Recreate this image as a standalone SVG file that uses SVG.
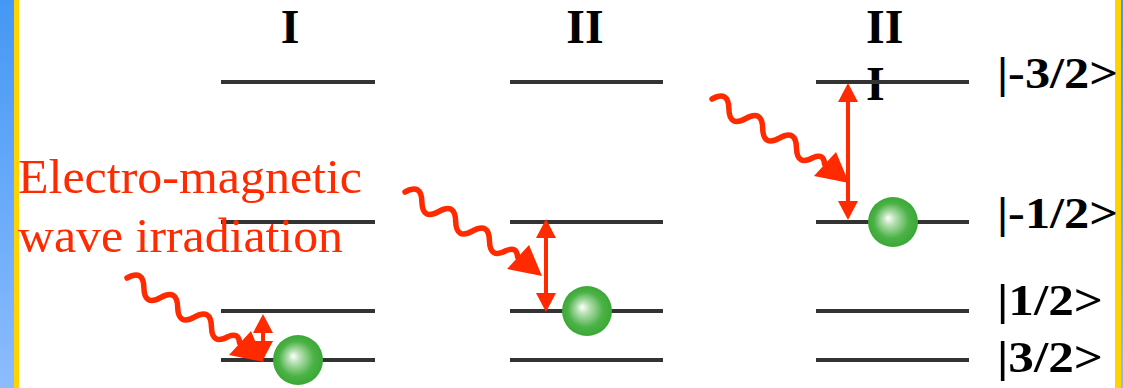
<svg xmlns="http://www.w3.org/2000/svg" xmlns:xlink="http://www.w3.org/1999/xlink" width="1123" height="388" viewBox="0 0 1123 388">
<style>
.lvl{stroke:#333333;stroke-width:4;fill:none}
.hdr{font-family:"Liberation Serif","Times New Roman",serif;font-weight:bold;font-size:48px;fill:#000}
.ket{font-family:"Liberation Serif","Times New Roman",serif;font-weight:bold;font-size:45px;fill:#000}
.red{font-family:"Liberation Serif","Times New Roman",serif;font-size:48px;fill:#ff2a00}
.dbl{stroke:#ff2a00;stroke-width:4;fill:none}
.wv{stroke:#ff2a00;stroke-width:5.5;fill:none;stroke-linecap:round;stroke-linejoin:round}
</style>
<defs>
<linearGradient id="blue" x1="0" y1="0" x2="0" y2="1">
<stop offset="0" stop-color="#4498f4"/>
<stop offset="1" stop-color="#8cbcff"/>
</linearGradient>
<radialGradient id="ball" cx="0.5" cy="0.5" r="0.5" fx="0.4" fy="0.42">
<stop offset="0" stop-color="#ffffff"/>
<stop offset="0.25" stop-color="#b6e0b2"/>
<stop offset="0.7" stop-color="#4cb247"/>
<stop offset="1" stop-color="#3aa835"/>
</radialGradient>
<marker id="ah" markerUnits="userSpaceOnUse" markerWidth="20" markerHeight="20" refX="0" refY="9" orient="auto-start-reverse" viewBox="0 0 17 18">
<path d="M0,0 L17,9 L0,18 z" fill="#ff2a00"/>
</marker>
<g id="wave">
<path class="wv" transform="rotate(30)" d="M0,0 Q9.75,-16 19.5,0 T39,0 T58.5,0 T78,0 T97.5,0 T117,0 Q124,-9 130,0"/>
<polygon points="102,77 124,53 137,84" fill="#ff2a00"/>
</g>
</defs>
<rect x="0" y="0" width="14" height="388" fill="url(#blue)"/>
<rect x="14" y="0" width="5" height="388" fill="#ffd200"/>
<rect x="1115" y="0" width="6" height="388" fill="#ffd200"/>
<rect x="1121" y="0" width="2" height="388" fill="url(#blue)"/>

<g id="headers">
<text class="hdr" x="290" y="43" text-anchor="middle">I</text>
<text class="hdr" x="585" y="43" text-anchor="middle">II</text>
<text class="hdr" x="866" y="43">II</text>
<text class="hdr" x="866" y="100">I</text>
</g>

<g id="col1">
<line class="lvl" x1="221" y1="82" x2="375" y2="82"/>
<line class="lvl" x1="221" y1="222" x2="375" y2="222"/>
<line class="lvl" x1="221" y1="311" x2="375" y2="311"/>
<line class="lvl" x1="221" y1="360" x2="375" y2="360"/>
<circle cx="298" cy="360" r="25" fill="url(#ball)"/>
</g>
<g id="col2">
<line class="lvl" x1="510" y1="82" x2="663" y2="82"/>
<line class="lvl" x1="510" y1="222" x2="663" y2="222"/>
<line class="lvl" x1="510" y1="311" x2="663" y2="311"/>
<line class="lvl" x1="510" y1="360" x2="663" y2="360"/>
<circle cx="587" cy="311" r="25" fill="url(#ball)"/>
</g>
<g id="col3">
<line class="lvl" x1="816" y1="82" x2="969" y2="82"/>
<line class="lvl" x1="816" y1="222" x2="969" y2="222"/>
<line class="lvl" x1="816" y1="311" x2="969" y2="311"/>
<line class="lvl" x1="816" y1="360" x2="969" y2="360"/>
<circle cx="893" cy="222" r="25" fill="url(#ball)"/>
</g>

<g id="connectors">
<line class="dbl" x1="263" y1="333" x2="263" y2="341" marker-start="url(#ah)" marker-end="url(#ah)"/>
<line class="dbl" x1="546" y1="238" x2="546" y2="293" marker-start="url(#ah)" marker-end="url(#ah)"/>
<line class="dbl" x1="848" y1="102" x2="848" y2="201" marker-start="url(#ah)" marker-end="url(#ah)"/>
<use xlink:href="#wave" href="#wave" transform="translate(127,278)"/>
<use xlink:href="#wave" href="#wave" transform="translate(405,192)"/>
<use xlink:href="#wave" href="#wave" transform="translate(712,99)"/>
</g>

<g id="labels">
<text class="red" x="18" y="193" textLength="344" lengthAdjust="spacingAndGlyphs">Electro-magnetic</text>
<text class="red" x="18" y="252" textLength="325" lengthAdjust="spacingAndGlyphs">wave irradiation</text>
<text class="ket" x="997" y="88" textLength="121" lengthAdjust="spacingAndGlyphs">|-3/2&gt;</text>
<text class="ket" x="997" y="228" textLength="121" lengthAdjust="spacingAndGlyphs">|-1/2&gt;</text>
<text class="ket" x="997" y="315" textLength="106" lengthAdjust="spacingAndGlyphs">|1/2&gt;</text>
<text class="ket" x="997" y="372" textLength="106" lengthAdjust="spacingAndGlyphs">|3/2&gt;</text>
</g>
</svg>
